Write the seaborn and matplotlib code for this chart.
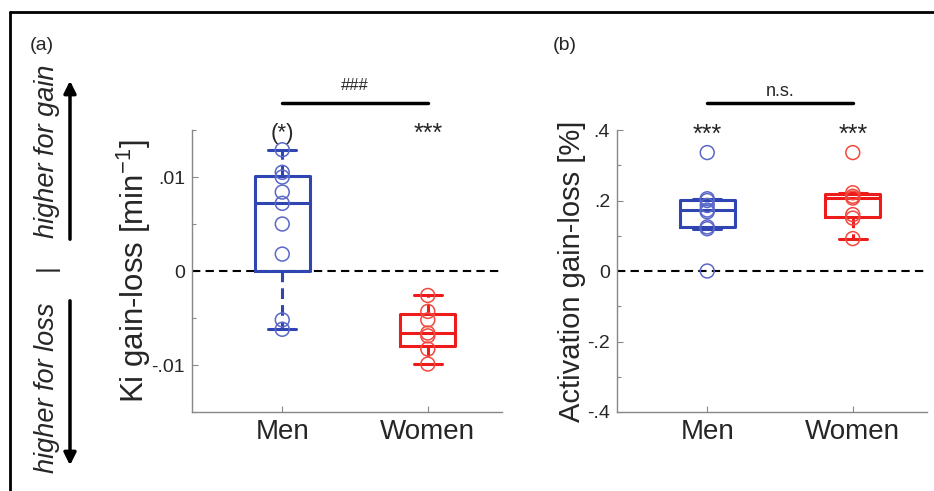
import numpy as np
import pandas as pd
import seaborn as sns
import matplotlib
matplotlib.use('Agg')
import matplotlib.pyplot as plt
from matplotlib.lines import Line2D
from matplotlib.patches import FancyArrowPatch
from matplotlib.ticker import MultipleLocator

# groups on the x axis
groups = ['Men', 'Women']

# (a) Ki gain-loss [1/min], one circle per subject
ki_men = [0.0129, 0.0105, 0.0100, 0.0084, 0.0072, 0.0050, 0.0018, -0.0052, -0.0062]
ki_women = [-0.0026, -0.0043, -0.0052, -0.0066, -0.0069, -0.0083, -0.0099]

# (b) activation gain-loss [%]
act_men = [0.336, 0.205, 0.200, 0.186, 0.173, 0.168, 0.125, 0.120, 0.0]
act_women = [0.336, 0.222, 0.212, 0.207, 0.160, 0.150, 0.092]

ki_ticks = [-0.01, 0, 0.01]
ki_ticklabels = ['-.01', '0', '.01']
act_ticks = [-0.4, -0.2, 0, 0.2, 0.4]
act_ticklabels = ['-.4', '-.2', '0', '.2', '.4']

stars_a = ['(*)', '***']
stars_b = ['***', '***']

box_colors = {'Men': '#2f45b2', 'Women': '#ee1b1b'}
dot_colors = {'Men': '#5a68c8', 'Women': '#f2493f'}

sns.set_style('ticks')
plt.rcParams['font.family'] = ['Liberation Sans', 'DejaVu Sans']
narrow = ['Liberation Sans Narrow', 'Liberation Sans']


def box_stats(vals):
    # matlab style quartiles (hazen) with 1.5 IQR whiskers
    v = np.asarray(vals)
    q1, med, q3 = np.percentile(v, [25, 50, 75], method='hazen')
    iqr = q3 - q1
    lo = v[v >= q1 - 1.5 * iqr].min()
    hi = v[v <= q3 + 1.5 * iqr].max()
    return dict(med=med, q1=q1, q3=q3, whislo=lo, whishi=hi, fliers=[])


def draw_panel(ax, men, women, ylim, ticks, ticklabels, minor, ylabel, label_x, label_size):
    df = pd.DataFrame({
        'pos': [0] * len(men) + [1] * len(women),
        'group': ['Men'] * len(men) + ['Women'] * len(women),
        'value': list(men) + list(women),
    })
    for i, (g, vals) in enumerate(zip(groups, [men, women])):
        c = box_colors[g]
        ax.bxp([box_stats(vals)], positions=[i], widths=0.38, showfliers=False,
               boxprops=dict(color=c, lw=2.2),
               whiskerprops=dict(color=c, lw=2.2, linestyle=(0, (3.5, 2))),
               capprops=dict(color=c, lw=2.2),
               medianprops=dict(color=c, lw=2.2),
               manage_ticks=False)
    sns.stripplot(data=df, x='pos', y='value', hue='group', palette=dot_colors,
                  native_scale=True, orient='x', jitter=False, size=10,
                  linewidth=1.1, legend=False, ax=ax, zorder=3)
    # open circles
    for coll in ax.collections:
        fc = coll.get_facecolor()
        coll.set_edgecolor(fc)
        coll.set_facecolor('none')

    ax.axhline(0, color='black', lw=1.5, ls=(0, (4, 2.5)), zorder=1)

    ax.set_xlim(-0.62, 1.51)
    ax.set_xticks([0, 1])
    ax.set_xticklabels(groups, fontsize=20)
    ax.set_xlabel('')
    ax.set_ylim(*ylim)
    ax.set_yticks(ticks)
    ax.set_yticklabels(ticklabels, fontsize=14)
    ax.yaxis.set_minor_locator(MultipleLocator(minor))
    ax.set_ylabel(ylabel, fontsize=label_size)
    ax.yaxis.set_label_coords(label_x, 0.5)
    ax.tick_params(direction='in', length=4, width=0.8, color='#888888', pad=5)
    ax.tick_params(which='minor', direction='in', length=3, width=0.8, color='#888888')
    sns.despine(ax=ax)
    for s in ['left', 'bottom']:
        ax.spines[s].set_color('#888888')
        ax.spines[s].set_linewidth(1)


fig = plt.figure(figsize=(9.34, 4.91), dpi=100)
ax1 = fig.add_axes([0.2056, 0.1609, 0.3319, 0.5743])
ax2 = fig.add_axes([0.6606, 0.1609, 0.3319, 0.5743])

draw_panel(ax1, ki_men, ki_women, (-0.015, 0.015), ki_ticks, ki_ticklabels, 0.005,
           'Ki gain-loss [min$^{\\mathregular{-1}}$]', -0.125, 22.5)
draw_panel(ax2, act_men, act_women, (-0.4, 0.4), act_ticks, act_ticklabels, 0.1,
           'Activation gain-loss [%]', -0.1, 21)

# significance marks
for i, s in enumerate(stars_a):
    ax1.text(i, 0.0146, s, ha='center', va='center', fontsize=16 if s == '(*)' else 18)
for i, s in enumerate(stars_b):
    ax2.text(i, 0.386, s, ha='center', va='center', fontsize=18)

ax1.plot([0, 1], [0.0179, 0.0179], color='black', lw=2.5, clip_on=False)
ax1.text(0.5, 0.0197, '###', ha='center', va='center', fontsize=12, family=narrow)
ax2.plot([0, 1], [0.476, 0.476], color='black', lw=2.5, clip_on=False)
ax2.text(0.5, 0.51, 'n.s.', ha='center', va='center', fontsize=13, family=narrow)

# panel letters
fig.text(42 / 934, 1 - 45 / 491, '(a)', ha='center', va='center', fontsize=14, family=narrow)
fig.text(565 / 934, 1 - 45 / 491, '(b)', ha='center', va='center', fontsize=14, family=narrow)

# gain / loss direction on the left
fig.text(47 / 934, 1 - 151 / 491, 'higher for gain', rotation=90, style='italic',
         fontsize=19.5, ha='center', va='center')
fig.text(47 / 934, 1 - 388 / 491, 'higher for loss', rotation=90, style='italic',
         fontsize=19.5, ha='center', va='center')
fig.text(47 / 934, 1 - 268 / 491, '|', rotation=90, fontsize=19, ha='center', va='center')
fig.add_artist(FancyArrowPatch((70 / 934, 1 - 242 / 491), (70 / 934, 1 - 78 / 491),
                               transform=fig.transFigure, arrowstyle='-|>',
                               mutation_scale=18, lw=2.5, color='black'))
fig.add_artist(FancyArrowPatch((70 / 934, 1 - 298 / 491), (70 / 934, 1 - 468 / 491),
                               transform=fig.transFigure, arrowstyle='-|>',
                               mutation_scale=18, lw=2.5, color='black'))

# frame of the figure
fig.add_artist(Line2D([10 / 934, 1], [1 - 12 / 491, 1 - 12 / 491], transform=fig.transFigure,
                      color='black', lw=2))
fig.add_artist(Line2D([10 / 934, 10 / 934], [0, 1 - 12 / 491], transform=fig.transFigure,
                      color='black', lw=2))

fig.savefig('out.png', dpi=100)
